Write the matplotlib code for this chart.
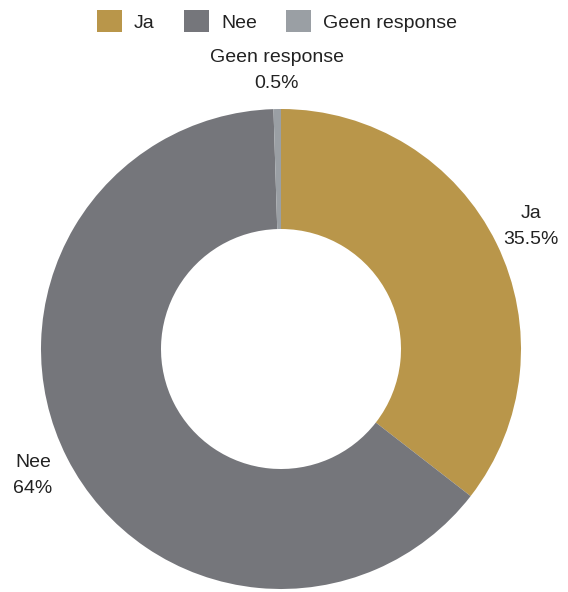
import matplotlib
matplotlib.use("Agg")
import matplotlib.pyplot as plt
import numpy as np

# Data
categories = ["Ja", "Nee", "Geen response"]
values = [35.5, 64, 0.5]
value_labels = ["35.5%", "64%", "0.5%"]
colors = ["#b9964a", "#75767b", "#9a9fa4"]

plt.rcParams["font.family"] = ["Liberation Sans", "DejaVu Sans"]

fig = plt.figure(figsize=(5.68, 5.92), dpi=100)
ax = fig.add_axes([41 / 568, 3 / 592, 480 / 568, 480 / 592])

wedges, _ = ax.pie(
    values,
    colors=colors,
    startangle=90,
    counterclock=False,
    radius=1.0,
    wedgeprops=dict(width=0.5, linewidth=0),
)
ax.set_xlim(-1, 1)
ax.set_ylim(-1, 1)
ax.set_aspect("equal")
ax.axis("off")

# Slice labels along the mid-angle of each wedge
for w, cat, lab in zip(wedges, categories, value_labels):
    mid = np.deg2rad((w.theta1 + w.theta2) / 2)
    r = 1.16
    ax.text(r * np.cos(mid), r * np.sin(mid), f"{cat}\n{lab}",
            ha="center", va="center", multialignment="center",
            fontsize=14, color="#222222", linespacing=1.65, clip_on=False)

fig.legend(wedges, categories, loc="center", bbox_to_anchor=(277 / 568, 1 - 21 / 592),
           ncol=3, frameon=False, fontsize=14, handlelength=1.3, handleheight=1.3,
           handletextpad=0.6, columnspacing=1.5, labelcolor="#222222")

fig.savefig("out.png", dpi=100)
